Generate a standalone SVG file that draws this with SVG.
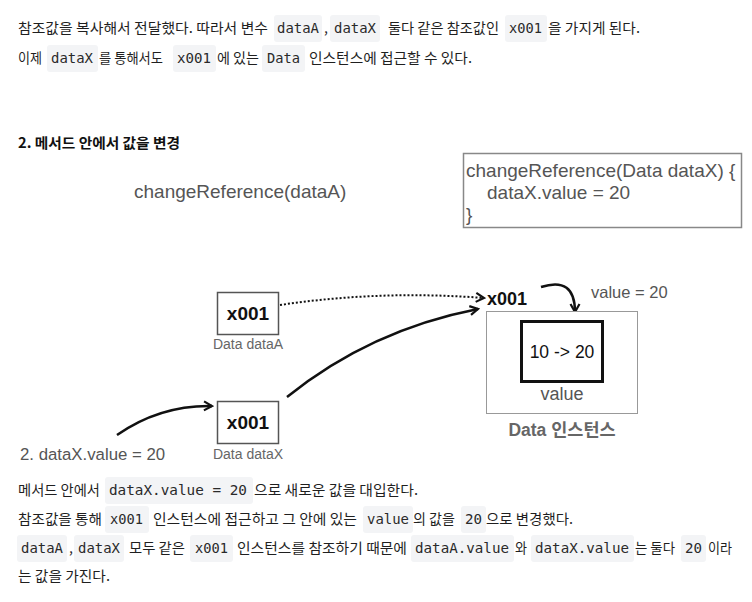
<svg xmlns="http://www.w3.org/2000/svg" width="752" height="602" viewBox="0 0 752 602">
<style>
.kr{font-family:"Noto Sans CJK KR","Noto Sans",sans-serif;font-size:14px;fill:#1f1f1f}
.krb{font-family:"Noto Sans CJK KR","Noto Sans",sans-serif;font-size:14px;font-weight:bold;fill:#111}
.code{font-family:"DejaVu Sans Mono","Liberation Mono",monospace;font-size:13.5px;fill:#2a2a2a}
.cbg{fill:#f3f4f6}
.dg{font-family:"Liberation Sans",Arial,sans-serif;fill:#555}
.box{fill:#fff;stroke:#555;stroke-width:1.5}
.xv{font-family:"Liberation Sans",Arial,sans-serif;font-weight:bold;font-size:19px;fill:#111;text-anchor:middle}
.lbl{font-family:"Liberation Sans",Arial,sans-serif;font-size:14px;fill:#666;text-anchor:middle}
.conn{fill:none;stroke:#111;stroke-width:2.5}
</style>
<defs>
<marker id="open" viewBox="0 0 12 12" refX="10" refY="6" markerWidth="12" markerHeight="12" markerUnits="userSpaceOnUse" orient="auto">
<path d="M2,1.5 L10,6 L2,10.5" fill="none" stroke="#111" stroke-width="2.2"/>
</marker>
</defs>
<rect width="752" height="602" fill="#fff"/>

<g id="prose-top">
<text class="kr" x="18" y="33" textLength="250" lengthAdjust="spacingAndGlyphs">참조값을 복사해서 전달했다. 따라서 변수</text>
<rect class="cbg" x="274" y="15" width="48" height="27" rx="3"/>
<text class="code" x="277" y="33" textLength="42" lengthAdjust="spacingAndGlyphs">dataA</text>
<text class="kr" x="324" y="33">,</text>
<rect class="cbg" x="330" y="15" width="50" height="27" rx="3"/>
<text class="code" x="334" y="33" textLength="42" lengthAdjust="spacingAndGlyphs">dataX</text>
<text class="kr" x="388" y="33" textLength="111" lengthAdjust="spacingAndGlyphs">둘다 같은 참조값인</text>
<rect class="cbg" x="505" y="15" width="42" height="27" rx="3"/>
<text class="code" x="509" y="33" textLength="33" lengthAdjust="spacingAndGlyphs">x001</text>
<text class="kr" x="548" y="33" textLength="92" lengthAdjust="spacingAndGlyphs">을 가지게 된다.</text>

<text class="kr" x="18" y="63" textLength="24" lengthAdjust="spacingAndGlyphs">이제</text>
<rect class="cbg" x="47" y="45" width="51" height="27" rx="3"/>
<text class="code" x="51" y="63" textLength="42" lengthAdjust="spacingAndGlyphs">dataX</text>
<text class="kr" x="99" y="63" textLength="64" lengthAdjust="spacingAndGlyphs">를 통해서도</text>
<rect class="cbg" x="173" y="45" width="43" height="27" rx="3"/>
<text class="code" x="177" y="63" textLength="34" lengthAdjust="spacingAndGlyphs">x001</text>
<text class="kr" x="217" y="63" textLength="42" lengthAdjust="spacingAndGlyphs">에 있는</text>
<rect class="cbg" x="262" y="45" width="43" height="27" rx="3"/>
<text class="code" x="267" y="63" textLength="33" lengthAdjust="spacingAndGlyphs">Data</text>
<text class="kr" x="309" y="63" textLength="163" lengthAdjust="spacingAndGlyphs">인스턴스에 접근할 수 있다.</text>
</g>

<g id="heading">
<text class="krb" x="18" y="148" textLength="162" lengthAdjust="spacingAndGlyphs">2. 메서드 안에서 값을 변경</text>
</g>

<g id="call">
<text class="dg" x="134" y="198" font-size="19">changeReference(dataA)</text>
</g>

<g id="method-code">
<rect x="463.5" y="153.5" width="278" height="74" fill="#fff" stroke="#888" stroke-width="1.5"/>
<text class="dg" x="466" y="177" font-size="19" fill="#444">changeReference(Data dataX) {</text>
<text class="dg" x="487" y="199" font-size="19" fill="#444">dataX.value = 20</text>
<text class="dg" x="466" y="221" font-size="19" fill="#444">}</text>
</g>

<g id="connectors">
<path d="M280,305 Q380,290 484,298" fill="none" stroke="#111" stroke-width="2" stroke-dasharray="2,2" marker-end="url(#open)"/>
<path class="conn" d="M287,397 Q370,330 478,309" marker-end="url(#open)"/>
<path class="conn" d="M541,287 Q575,276 575,312" marker-end="url(#open)"/>
<path class="conn" d="M117,435 Q160,405 212,406" marker-end="url(#open)"/>
</g>

<g id="node-dataA">
<rect class="box" x="217.5" y="292.5" width="61" height="42"/>
<text class="xv" x="248" y="320">x001</text>
<text class="lbl" x="248" y="349">Data dataA</text>
</g>

<g id="node-dataX">
<rect class="box" x="217.5" y="401.5" width="61" height="42"/>
<text class="xv" x="248" y="429">x001</text>
<text class="lbl" x="248" y="459">Data dataX</text>
</g>

<g id="node-instance">
<text x="487" y="305" font-family="Liberation Sans, Arial, sans-serif" font-weight="bold" font-size="18" fill="#111">x001</text>
<rect x="486.5" y="311.5" width="151" height="102" fill="#fff" stroke="#999" stroke-width="1"/>
<rect x="521.5" y="321.5" width="81" height="60" fill="#fff" stroke="#111" stroke-width="3"/>
<text x="562" y="358" font-family="Liberation Sans, Arial, sans-serif" font-size="17.5" fill="#111" text-anchor="middle">10 -&gt; 20</text>
<text class="dg" x="562" y="400" font-size="18" text-anchor="middle" fill="#666">value</text>
<text x="562" y="436" font-family="Liberation Sans, Arial, 'Noto Sans CJK KR', sans-serif" font-weight="bold" font-size="17.5" fill="#666" text-anchor="middle">Data 인스턴스</text>
</g>

<g id="label-value">
<text class="dg" x="591" y="298" font-size="16.5" fill="#666">value = 20</text>
</g>

<g id="label-assign">
<text class="dg" x="20" y="460" font-size="16.8" fill="#666">2. dataX.value = 20</text>
</g>

<g id="prose-bottom">
<text class="kr" x="18" y="495" textLength="82" lengthAdjust="spacingAndGlyphs">메서드 안에서</text>
<rect class="cbg" x="105" y="477" width="148" height="27" rx="3"/>
<text class="code" x="109" y="495" textLength="138" lengthAdjust="spacingAndGlyphs">dataX.value = 20</text>
<text class="kr" x="254" y="495" textLength="164" lengthAdjust="spacingAndGlyphs">으로 새로운 값을 대입한다.</text>

<text class="kr" x="18" y="524" textLength="84" lengthAdjust="spacingAndGlyphs">참조값을 통해</text>
<rect class="cbg" x="105" y="506" width="44" height="27" rx="3"/>
<text class="code" x="110" y="524" textLength="33" lengthAdjust="spacingAndGlyphs">x001</text>
<text class="kr" x="153" y="524" textLength="204" lengthAdjust="spacingAndGlyphs">인스턴스에 접근하고 그 안에 있는</text>
<rect class="cbg" x="363" y="506" width="50" height="27" rx="3"/>
<text class="code" x="367" y="524" textLength="42" lengthAdjust="spacingAndGlyphs">value</text>
<text class="kr" x="413" y="524" textLength="42" lengthAdjust="spacingAndGlyphs">의 값을</text>
<rect class="cbg" x="461" y="506" width="25" height="27" rx="3"/>
<text class="code" x="465" y="524" textLength="17" lengthAdjust="spacingAndGlyphs">20</text>
<text class="kr" x="486" y="524" textLength="87" lengthAdjust="spacingAndGlyphs">으로 변경했다.</text>

<rect class="cbg" x="17" y="535" width="50" height="27" rx="3"/>
<text class="code" x="21" y="553" textLength="42" lengthAdjust="spacingAndGlyphs">dataA</text>
<text class="kr" x="69" y="553">,</text>
<rect class="cbg" x="74" y="535" width="50" height="27" rx="3"/>
<text class="code" x="78" y="553" textLength="42" lengthAdjust="spacingAndGlyphs">dataX</text>
<text class="kr" x="129" y="553" textLength="56" lengthAdjust="spacingAndGlyphs">모두 같은</text>
<rect class="cbg" x="190" y="535" width="43" height="27" rx="3"/>
<text class="code" x="195" y="553" textLength="33" lengthAdjust="spacingAndGlyphs">x001</text>
<text class="kr" x="237" y="553" textLength="170" lengthAdjust="spacingAndGlyphs">인스턴스를 참조하기 때문에</text>
<rect class="cbg" x="411" y="535" width="103" height="27" rx="3"/>
<text class="code" x="415" y="553" textLength="94" lengthAdjust="spacingAndGlyphs">dataA.value</text>
<text class="kr" x="515" y="553" textLength="12" lengthAdjust="spacingAndGlyphs">와</text>
<rect class="cbg" x="531" y="535" width="103" height="27" rx="3"/>
<text class="code" x="535" y="553" textLength="94" lengthAdjust="spacingAndGlyphs">dataX.value</text>
<text class="kr" x="635" y="553" textLength="40" lengthAdjust="spacingAndGlyphs">는 둘다</text>
<rect class="cbg" x="681" y="535" width="25" height="27" rx="3"/>
<text class="code" x="685" y="553" textLength="17" lengthAdjust="spacingAndGlyphs">20</text>
<text class="kr" x="708" y="553" textLength="24" lengthAdjust="spacingAndGlyphs">이라</text>

<text class="kr" x="18" y="581" textLength="92" lengthAdjust="spacingAndGlyphs">는 값을 가진다.</text>
</g>
</svg>
